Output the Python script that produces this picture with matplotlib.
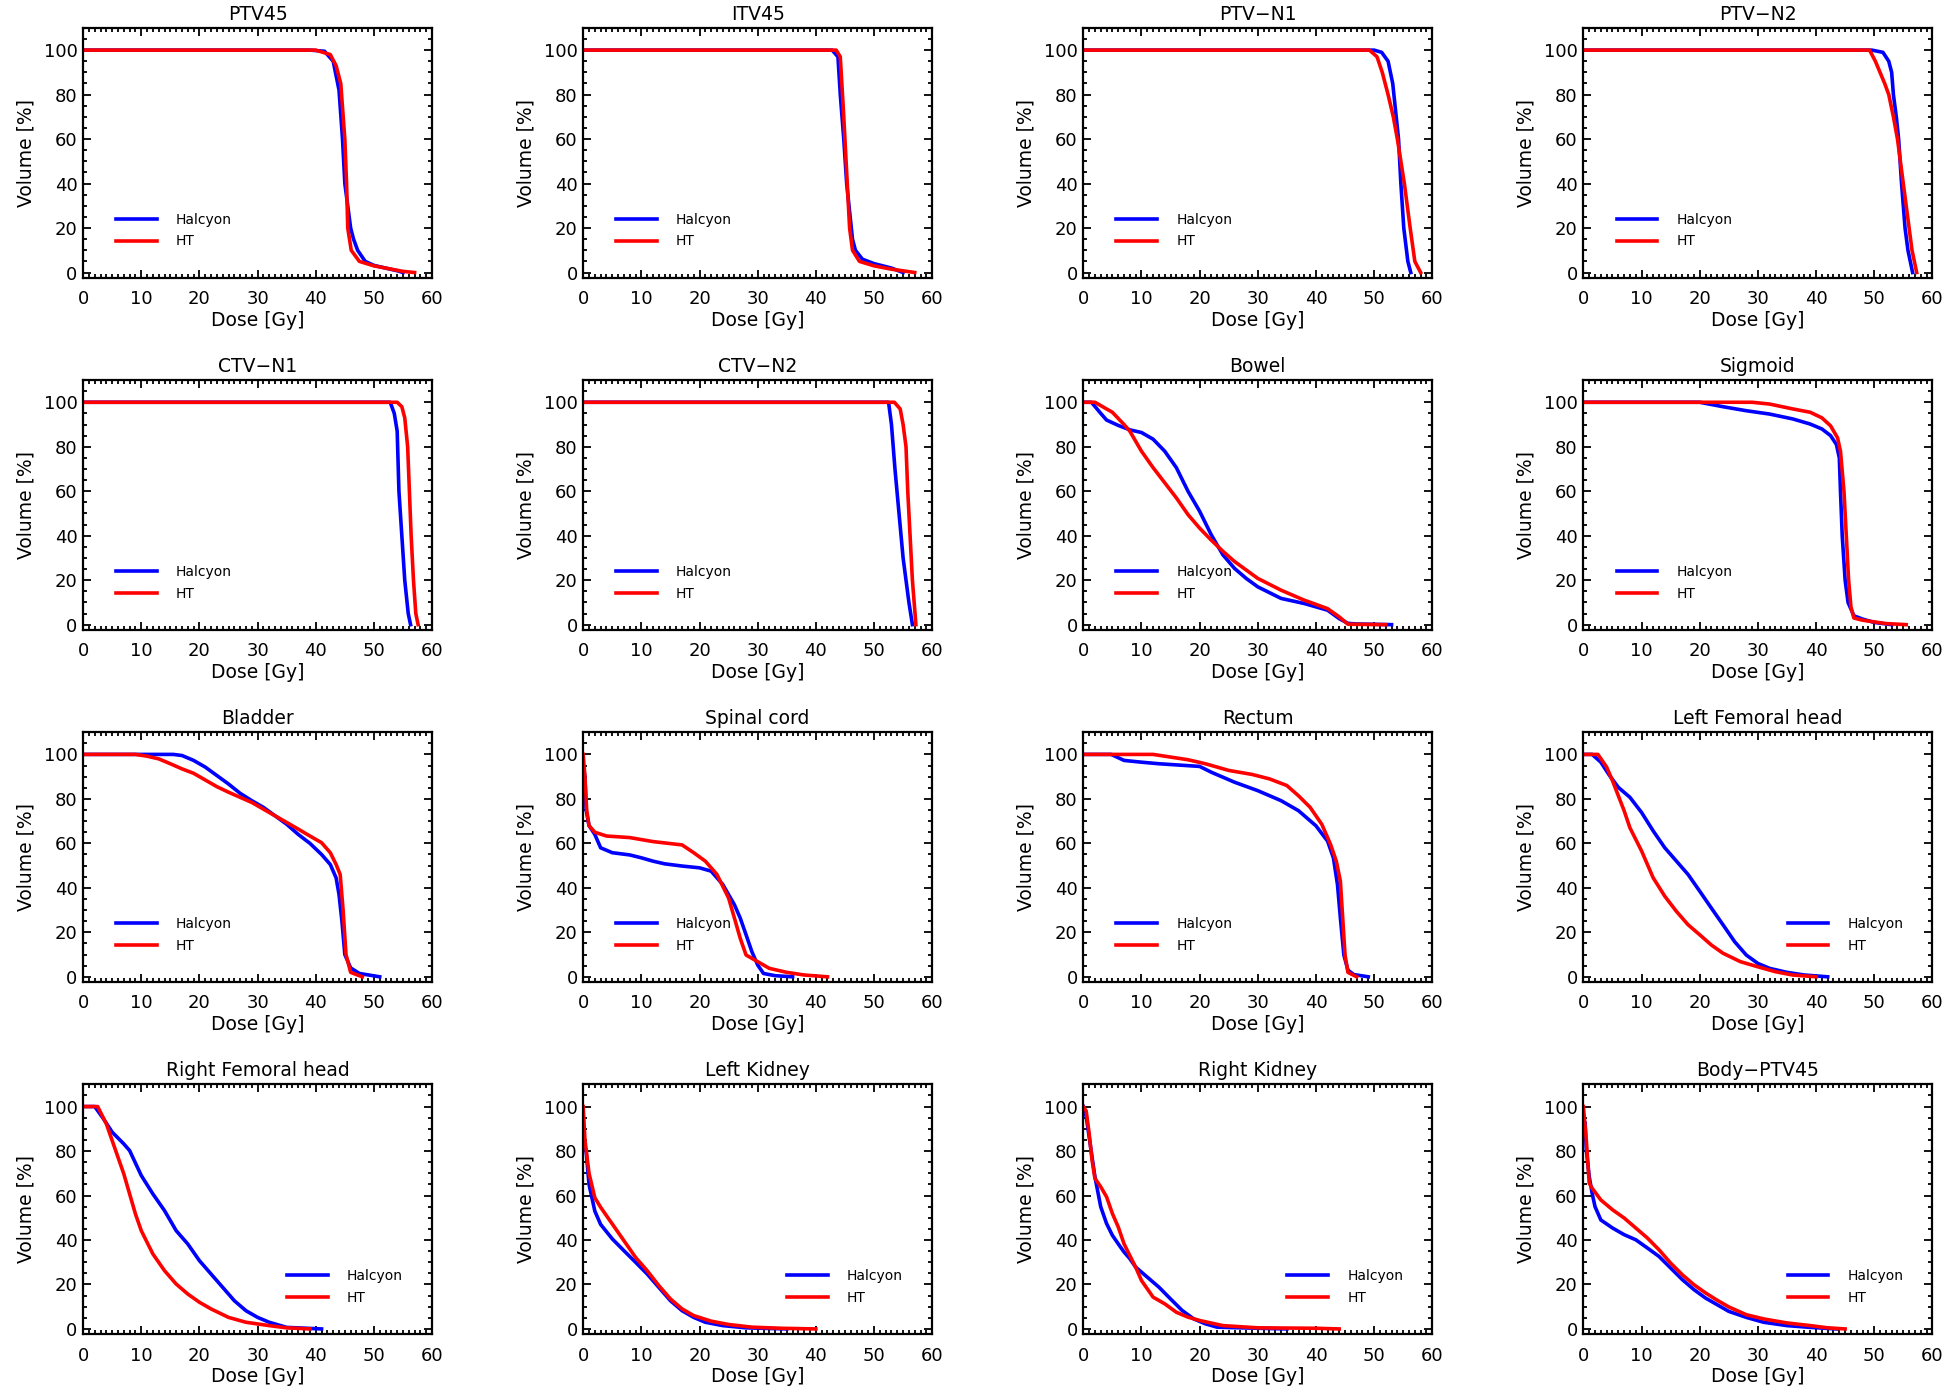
import numpy as np
import matplotlib
matplotlib.use("Agg")
import matplotlib.pyplot as plt
from matplotlib.ticker import MultipleLocator

# DVH curves: (dose [Gy], volume [%]) pairs
ptv45_hal = [(0, 100), (39, 100), (41.5, 99.5), (43, 95), (44, 82), (44.6, 60), (45, 40),
             (45.5, 30), (46, 20), (46.5, 15), (47.2, 10), (48.5, 5), (50, 3.2), (52, 2), (54, 0.8), (55, 0)]
ptv45_ht = [(0, 100), (40, 100), (42.5, 98), (43.5, 93), (44.3, 85), (45, 60), (45.3, 40),
            (45.5, 20), (46.1, 10), (47.5, 5), (50, 3), (53, 1.5), (55, 0.5), (57, 0)]

itv45_hal = [(0, 100), (42.8, 100), (43.8, 97), (44.2, 80), (44.8, 60), (45.3, 40), (45.7, 30),
             (46.3, 15), (46.8, 10), (48, 6), (50, 4), (53, 2), (55, 0)]
itv45_ht = [(0, 100), (43.5, 100), (44.2, 97), (44.8, 70), (45.2, 50), (45.8, 20), (46.3, 10),
            (47.5, 5), (50, 3), (53, 1.5), (57, 0)]

ptvn1_hal = [(0, 100), (50, 100), (51.3, 99), (52.4, 95), (53.2, 85), (53.8, 70), (54.2, 60),
             (54.6, 40), (55.1, 20), (55.8, 5), (56.3, 0)]
ptvn1_ht = [(0, 100), (49.2, 100), (50.5, 97), (51.4, 90), (52.4, 80), (53.3, 70), (54, 60),
            (55.2, 40), (56.2, 20), (57, 5), (58, 0)]

ptvn2_hal = [(0, 100), (49.6, 100), (51.5, 99), (52.5, 95), (53, 90), (53.3, 80), (53.8, 70),
             (54.2, 60), (54.7, 40), (55.3, 20), (55.8, 10), (56.6, 0)]
ptvn2_ht = [(0, 100), (49.2, 100), (50.2, 95), (51.8, 85), (52.5, 80), (53.3, 70), (54, 60),
            (55, 40), (55.5, 30), (56, 20), (56.5, 10), (57.3, 0)]

ctvn1_hal = [(0, 100), (52.8, 100), (53.5, 95), (54, 87), (54.3, 60), (54.8, 40), (55.3, 20),
             (55.9, 5), (56.3, 0)]
ctvn1_ht = [(0, 100), (54, 100), (54.8, 98), (55.3, 93), (55.8, 80), (56.1, 60), (56.4, 40),
            (56.8, 20), (57.2, 5), (57.6, 0)]

ctvn2_hal = [(0, 100), (52.5, 100), (53, 90), (53.6, 70), (54.3, 50), (55, 30), (55.5, 20),
             (56, 10), (56.6, 0)]
ctvn2_ht = [(0, 100), (53.5, 100), (54.5, 97), (55, 90), (55.5, 80), (55.8, 60), (56.2, 40),
            (56.6, 20), (57.2, 0)]

bowel_hal = [(0, 100), (1.4, 100), (3, 95), (4, 92), (6, 89.6), (8, 87.6), (10, 86.4), (12, 83.4),
             (14, 78), (16, 70.6), (18, 60), (20, 51), (22, 40.4), (24, 31.4), (26, 25.3),
             (28, 20.8), (30, 17), (34, 11.8), (38, 9.5), (42, 6.5), (44, 2.7), (45.5, 0.6),
             (47, 0.3), (53, 0)]
bowel_ht = [(0, 100), (2, 100), (3, 98.5), (5, 95.5), (7, 90), (8, 87), (10, 78), (12, 70.6),
            (14, 63.8), (16, 57), (18, 49.5), (20, 43.4), (22, 38), (24, 33), (26, 28.4),
            (28, 24.6), (30, 20.8), (34, 15.5), (38, 11), (42, 7.2), (44, 3.5), (45.5, 0.2),
            (52, 0)]

sigmoid_hal = [(0, 100), (20, 100), (24, 98), (28, 96.2), (32, 94.7), (36, 92.5), (39, 90.2),
               (41, 88), (42.5, 85), (43.5, 81), (44, 75), (44.2, 60), (44.5, 40), (45, 20),
               (45.5, 10), (46.5, 4), (48, 2.5), (50, 1), (53, 0)]
sigmoid_ht = [(0, 100), (29, 100), (32, 99.2), (36, 97), (39, 95.5), (41, 93), (42.5, 89.4),
              (43.7, 84), (44.2, 78), (44.8, 60), (45.2, 40), (45.6, 20), (46, 8), (46.5, 3),
              (48, 2), (52, 0.5), (55.5, 0)]

bladder_hal = [(0, 100), (15.5, 100), (17, 99.5), (19, 97.3), (21, 94.3), (23, 90.5), (25, 86.7),
               (27, 82.5), (29, 79.2), (31, 76.2), (33, 72.4), (35, 68.6), (37, 64), (39, 60),
               (41, 55), (42.5, 50.5), (43.5, 44.5), (44, 37), (44.5, 25), (45, 10), (46, 4),
               (47.5, 1.5), (51, 0)]
bladder_ht = [(0, 100), (9, 100), (11, 99.2), (13, 98), (15, 95.8), (17, 93.5), (19, 91.5),
              (21, 88.5), (23, 85.5), (25, 83), (27, 80.7), (29, 78.4), (31, 75.4), (33, 72.4),
              (35, 69.4), (37, 66.4), (39, 63.3), (41, 60.3), (42.5, 55.8), (43.5, 50.5),
              (44.2, 46), (44.7, 30), (45.2, 10), (46, 2), (48, 0)]

spinal_hal = [(0, 95), (0.3, 90), (0.5, 75), (1, 68), (2, 64), (3, 58), (5, 55.8), (8, 54.8),
              (10, 53.5), (12, 52), (14, 50.8), (17, 49.8), (20, 49), (22, 47.5), (24, 41.5),
              (26, 32.4), (27, 26.4), (28, 18.9), (29, 11.3), (30, 5.3), (31, 1.5), (33, 0.5),
              (36, 0)]
spinal_ht = [(0, 100), (0.3, 90), (0.6, 75), (1, 68), (2, 65), (4, 63.3), (8, 62.6), (12, 60.8),
             (17, 59.3), (19, 55.8), (21, 52), (23, 46), (25, 35.4), (26, 26.4), (27, 17.3),
             (28, 9.8), (30, 6.8), (32, 3.8), (35, 2), (38, 0.8), (42, 0)]

rectum_hal = [(0, 100), (4.8, 100), (7, 97.3), (10, 96.5), (13, 95.8), (20, 94.6), (22, 92),
              (26, 87.5), (30, 83.7), (34, 79.2), (37, 74.7), (40, 67.9), (42, 61), (43, 53.5),
              (43.7, 41.5), (44.2, 26.4), (44.8, 9.8), (45.5, 3), (46.5, 1), (49, 0)]
rectum_ht = [(0, 100), (12, 100), (15, 98.8), (18, 97.6), (21, 95.8), (25, 92.8), (29, 91),
             (32, 89), (35, 86), (37, 81.4), (39, 76.2), (41, 68.6), (42.5, 59.6), (43.5, 52),
             (44.2, 43), (44.6, 26.4), (45, 9.8), (45.5, 2), (47, 0)]

lfem_hal = [(0, 100), (1.5, 100), (3, 96.5), (4.5, 90.5), (6, 85.2), (8, 80.7), (10, 73.9),
            (12, 65.6), (14, 58), (16, 52), (18, 46), (20, 38.5), (22, 30.9), (24, 23.4),
            (26, 15.8), (28, 9.8), (30, 6), (32, 3.8), (35, 2), (38, 0.8), (42, 0)]
lfem_ht = [(0, 100), (2.5, 100), (4, 94.3), (5, 88.2), (7, 74.7), (8, 67), (10, 56.6),
           (12, 44.5), (14, 36.2), (16, 29.4), (18, 23.4), (20, 18.9), (22, 14.3), (24, 10.6),
           (27, 6.8), (30, 4.5), (33, 2.3), (36, 0.8), (40, 0)]

rfem_hal = [(0, 100), (2, 100), (3.5, 94.5), (5, 88.5), (7, 83.2), (8, 80.2), (10, 69),
            (12, 60.7), (14, 53.2), (16, 44.2), (18, 38.2), (20, 30.7), (22, 24.7), (24, 18.7),
            (26, 12.7), (28, 8.2), (30, 5.2), (32, 3), (35, 0.7), (41, 0)]
rfem_ht = [(0, 100), (2.5, 100), (4, 92.2), (5, 84.7), (6, 77.2), (7, 69.7), (8, 60.7),
           (9, 51.7), (10, 44.2), (12, 33.7), (14, 26.2), (16, 20.2), (18, 15.7), (20, 12),
           (22, 9), (25, 5.2), (28, 3), (32, 1.5), (35, 0.5), (39, 0)]

lkid_hal = [(0.3, 82), (0.5, 80), (1, 65), (2, 53), (3, 47), (5, 40.5), (7, 35.2), (9, 30),
            (11, 24.7), (13, 18.7), (15, 12.7), (17, 8.2), (19, 5.2), (21, 3), (24, 1.5),
            (28, 0.5), (35, 0)]
lkid_ht = [(0, 100), (0.3, 85), (1, 70), (2, 59), (3, 54.7), (5, 47.2), (7, 39.7), (9, 32.2),
           (11, 26.2), (13, 19.5), (15, 13.5), (17, 9), (19, 6), (22, 3.5), (25, 2), (29, 0.8),
           (34, 0.3), (40, 0)]

rkid_hal = [(0, 100), (0.5, 95.5), (1, 86.5), (1.5, 77.4), (2, 68.4), (3, 54.9), (4, 47.4),
            (5, 42.1), (6, 38.3), (7, 34.6), (8, 31.6), (9, 27.8), (11, 23.3), (13, 18.8),
            (15, 13.5), (17, 8.3), (19, 4.5), (21, 2.3), (23, 0.8), (27, 0.5), (35, 0)]
rkid_ht = [(0, 100), (0.5, 98), (1, 88), (1.5, 76), (2, 67.7), (3, 63.9), (4, 59.4), (5, 51.9),
           (6, 45.9), (7, 38.3), (8, 33), (9, 27.8), (10, 21.8), (12, 14.3), (14, 11.3),
           (16, 7.5), (18, 5.3), (20, 3.8), (24, 1.5), (30, 0.5), (40, 0.3), (44, 0)]

body_hal = [(0.3, 92.5), (0.5, 80.5), (1, 68.6), (1.5, 61), (2, 55), (3, 49), (5, 45.4),
            (7, 42.4), (9, 40.1), (11, 36.4), (13, 32.6), (15, 27.4), (17, 22.2), (19, 17.7),
            (21, 13.9), (23, 10.9), (25, 7.9), (28, 5.2), (31, 3), (35, 1.5), (39, 0.7),
            (43.5, 0)]
body_ht = [(0, 100), (0.5, 85), (1, 65.6), (1.5, 63.3), (3, 58), (5, 53.6), (7, 49.9),
           (9, 45.4), (11, 40.9), (13, 35.6), (15, 29.6), (17, 24.4), (19, 19.9), (21, 16.2),
           (23, 12.9), (25, 9.9), (28, 6.4), (31, 4.5), (35, 2.7), (39, 1.5), (42, 0.5), (45, 0)]

titles = ["PTV45", "ITV45", "PTV\u2212N1", "PTV\u2212N2",
          "CTV\u2212N1", "CTV\u2212N2", "Bowel", "Sigmoid",
          "Bladder", "Spinal cord", "Rectum", "Left Femoral head",
          "Right Femoral head", "Left Kidney", "Right Kidney", "Body\u2212PTV45"]
halcyon = [ptv45_hal, itv45_hal, ptvn1_hal, ptvn2_hal,
           ctvn1_hal, ctvn2_hal, bowel_hal, sigmoid_hal,
           bladder_hal, spinal_hal, rectum_hal, lfem_hal,
           rfem_hal, lkid_hal, rkid_hal, body_hal]
ht = [ptv45_ht, itv45_ht, ptvn1_ht, ptvn2_ht,
      ctvn1_ht, ctvn2_ht, bowel_ht, sigmoid_ht,
      bladder_ht, spinal_ht, rectum_ht, lfem_ht,
      rfem_ht, lkid_ht, rkid_ht, body_ht]
legend_right = {"Left Femoral head", "Right Femoral head", "Left Kidney",
                "Right Kidney", "Body\u2212PTV45"}

plt.rcParams['font.family'] = ['DejaVu Sans']

fig, axes = plt.subplots(4, 4, figsize=(19.46, 13.94), dpi=100)
fig.subplots_adjust(left=0.0427, right=0.993, top=0.980, bottom=0.043,
                    wspace=0.433, hspace=0.41)

for ax, title, hal, h in zip(axes.flat, titles, halcyon, ht):
    hal = np.array(hal)
    h = np.array(h)
    ax.plot(hal[:, 0], hal[:, 1], color='#0000ff', lw=2.6, label='Halcyon')
    ax.plot(h[:, 0], h[:, 1], color='#ff0000', lw=2.6, label='HT')
    ax.set_xlim(0, 60)
    ax.set_ylim(-2.3, 110)
    ax.set_xticks(range(0, 61, 10))
    ax.set_yticks(range(0, 101, 20))
    ax.xaxis.set_minor_locator(MultipleLocator(1))
    ax.yaxis.set_minor_locator(MultipleLocator(5))
    ax.tick_params(which='both', direction='in', top=True, right=True, width=1.3)
    ax.tick_params(which='major', length=6)
    ax.tick_params(which='minor', length=3)
    ax.tick_params(axis='x', labelsize=13, pad=9)
    ax.tick_params(axis='y', labelsize=13, pad=4)
    for s in ax.spines.values():
        s.set_linewidth(1.6)
    ax.set_title(title, fontsize=13.5, pad=6)
    ax.set_xlabel('Dose [Gy]', fontsize=13.5, labelpad=2)
    ax.set_ylabel('Volume [%]', fontsize=13.5, labelpad=6)
    x0 = 0.585 if title in legend_right else 0.095
    ax.legend(loc='lower left', bbox_to_anchor=(x0, 0.117), frameon=False,
              fontsize=10, handlelength=2.9, handletextpad=1.4, labelspacing=0.55,
              borderpad=0, borderaxespad=0)

fig.savefig('out.png', dpi=100)
